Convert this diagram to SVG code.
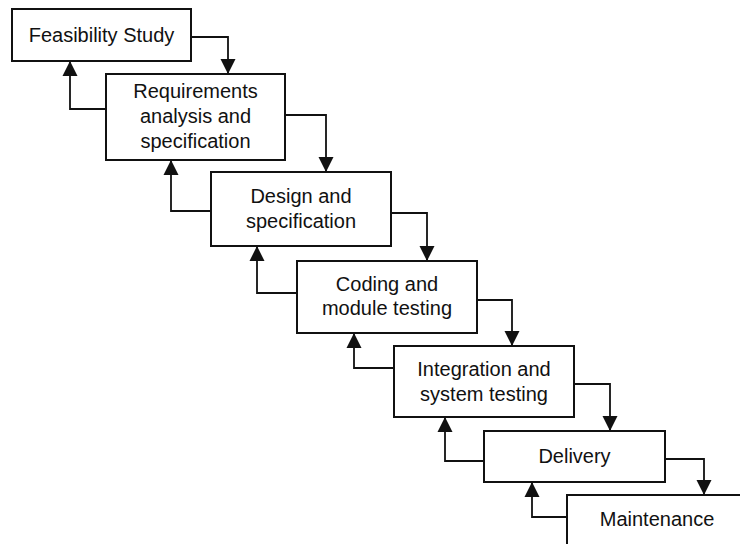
<svg xmlns="http://www.w3.org/2000/svg" width="740" height="544" viewBox="0 0 740 544">
  <style>
    .box { fill: #ffffff; stroke: #111111; stroke-width: 2; }
    .lbl { font-family: "Liberation Sans", Arial, sans-serif; font-size: 20px; fill: #111111; text-anchor: middle; }
    .wire { fill: none; stroke: #111111; stroke-width: 1.8; marker-end: url(#head); }
  </style>
  <defs>
    <marker id="head" markerUnits="userSpaceOnUse" markerWidth="16" markerHeight="16" viewBox="0 0 16 16" refX="15" refY="8" orient="auto">
      <path d="M0,0.5 L15,8 L0,15.5 Z" fill="#111111"/>
    </marker>
  </defs>

  <rect width="740" height="544" fill="#ffffff"/>

  <!-- connectors: forward steps on the right, feedback on the left -->
  <g id="connectors">
    <path class="wire" d="M191,37 H228 V74"/>
    <path class="wire" d="M106,109 H70 V61"/>
    <path class="wire" d="M285,115 H326 V172"/>
    <path class="wire" d="M211,211 H171 V160"/>
    <path class="wire" d="M391,213 H427 V261"/>
    <path class="wire" d="M297,293 H257 V246"/>
    <path class="wire" d="M477,300 H512 V346"/>
    <path class="wire" d="M394,368 H354 V333"/>
    <path class="wire" d="M574,384 H610 V431"/>
    <path class="wire" d="M484,461 H445 V417"/>
    <path class="wire" d="M665,459 H704 V495"/>
    <path class="wire" d="M567,517 H532 V482"/>
  </g>

  <g id="feasibility">
    <rect class="box" x="12" y="9" width="179" height="52"/>
    <text class="lbl" x="101.5" y="42">Feasibility Study</text>
  </g>

  <g id="requirements">
    <rect class="box" x="106" y="74" width="179" height="86"/>
    <text class="lbl" x="195.5" y="98">Requirements</text>
    <text class="lbl" x="195.5" y="123">analysis and</text>
    <text class="lbl" x="195.5" y="148">specification</text>
  </g>

  <g id="design">
    <rect class="box" x="211" y="172" width="180" height="74"/>
    <text class="lbl" x="301" y="203">Design and</text>
    <text class="lbl" x="301" y="228">specification</text>
  </g>

  <g id="coding">
    <rect class="box" x="297" y="261" width="180" height="72"/>
    <text class="lbl" x="387" y="291">Coding and</text>
    <text class="lbl" x="387" y="315">module testing</text>
  </g>

  <g id="integration">
    <rect class="box" x="394" y="346" width="180" height="71"/>
    <text class="lbl" x="484" y="376">Integration and</text>
    <text class="lbl" x="484" y="401">system testing</text>
  </g>

  <g id="delivery">
    <rect class="box" x="484" y="431" width="181" height="51"/>
    <text class="lbl" x="574.5" y="463">Delivery</text>
  </g>

  <g id="maintenance">
    <rect class="box" x="567" y="495" width="180" height="60"/>
    <text class="lbl" x="657" y="526">Maintenance</text>
  </g>
</svg>
